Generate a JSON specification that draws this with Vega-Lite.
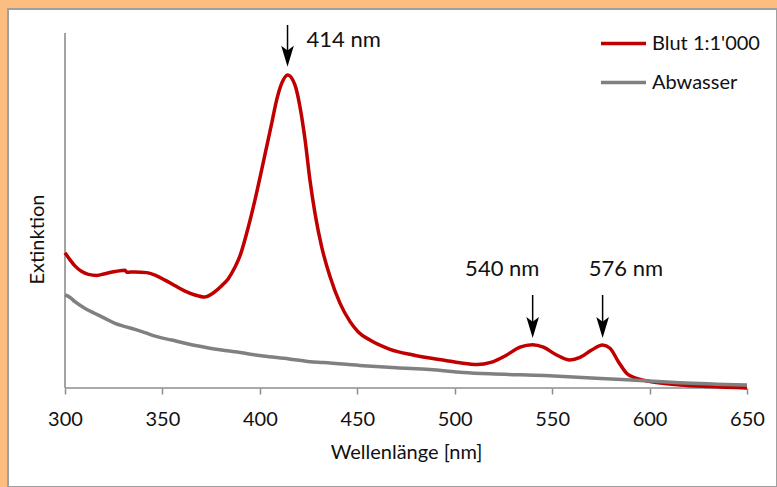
{
  "$schema": "https://vega.github.io/schema/vega-lite/v6.json",
  "width": 769,
  "height": 478,
  "padding": {"left": 8, "top": 9, "right": 0, "bottom": 0},
  "autosize": {"type": "none"},
  "background": "#FBBD80",
  "config": {
    "font": "Lato",
    "view": {"fill": "#FFFFFF", "stroke": "#A0A0A0", "strokeWidth": 2},
    "axis": {"grid": false}
  },
  "datasets": {
    "frame": [
      {"nm": 300, "nm2": 650, "v": 0, "v2": 0},
      {"nm": 300, "nm2": 300, "v": 0, "v2": 1}
    ],
    "curves": [
      {"series": "Blut 1:1'000", "nm": 300, "v": 0.381},
      {"series": "Blut 1:1'000", "nm": 302.6, "v": 0.361},
      {"series": "Blut 1:1'000", "nm": 305.1, "v": 0.344},
      {"series": "Blut 1:1'000", "nm": 308.6, "v": 0.328},
      {"series": "Blut 1:1'000", "nm": 312, "v": 0.320},
      {"series": "Blut 1:1'000", "nm": 316.3, "v": 0.317},
      {"series": "Blut 1:1'000", "nm": 320.5, "v": 0.322},
      {"series": "Blut 1:1'000", "nm": 325.7, "v": 0.328},
      {"series": "Blut 1:1'000", "nm": 330.8, "v": 0.332},
      {"series": "Blut 1:1'000", "nm": 331.7, "v": 0.326},
      {"series": "Blut 1:1'000", "nm": 335.9, "v": 0.327},
      {"series": "Blut 1:1'000", "nm": 341.9, "v": 0.325},
      {"series": "Blut 1:1'000", "nm": 346.2, "v": 0.318},
      {"series": "Blut 1:1'000", "nm": 351.3, "v": 0.304},
      {"series": "Blut 1:1'000", "nm": 356.5, "v": 0.288},
      {"series": "Blut 1:1'000", "nm": 361.6, "v": 0.273},
      {"series": "Blut 1:1'000", "nm": 366.7, "v": 0.262},
      {"series": "Blut 1:1'000", "nm": 371.8, "v": 0.256},
      {"series": "Blut 1:1'000", "nm": 375.3, "v": 0.265},
      {"series": "Blut 1:1'000", "nm": 380.4, "v": 0.288},
      {"series": "Blut 1:1'000", "nm": 383.8, "v": 0.308},
      {"series": "Blut 1:1'000", "nm": 387.2, "v": 0.340},
      {"series": "Blut 1:1'000", "nm": 389.8, "v": 0.372},
      {"series": "Blut 1:1'000", "nm": 394.1, "v": 0.454},
      {"series": "Blut 1:1'000", "nm": 397.5, "v": 0.530},
      {"series": "Blut 1:1'000", "nm": 400.9, "v": 0.614},
      {"series": "Blut 1:1'000", "nm": 403.5, "v": 0.680},
      {"series": "Blut 1:1'000", "nm": 406.1, "v": 0.746},
      {"series": "Blut 1:1'000", "nm": 408.6, "v": 0.811},
      {"series": "Blut 1:1'000", "nm": 411.2, "v": 0.858},
      {"series": "Blut 1:1'000", "nm": 414.3, "v": 0.882},
      {"series": "Blut 1:1'000", "nm": 418, "v": 0.854},
      {"series": "Blut 1:1'000", "nm": 420.6, "v": 0.792},
      {"series": "Blut 1:1'000", "nm": 423.2, "v": 0.699},
      {"series": "Blut 1:1'000", "nm": 425.7, "v": 0.586},
      {"series": "Blut 1:1'000", "nm": 428.3, "v": 0.492},
      {"series": "Blut 1:1'000", "nm": 431.7, "v": 0.398},
      {"series": "Blut 1:1'000", "nm": 436, "v": 0.314},
      {"series": "Blut 1:1'000", "nm": 441.1, "v": 0.239},
      {"series": "Blut 1:1'000", "nm": 446.3, "v": 0.187},
      {"series": "Blut 1:1'000", "nm": 450.5, "v": 0.158},
      {"series": "Blut 1:1'000", "nm": 456.5, "v": 0.135},
      {"series": "Blut 1:1'000", "nm": 466.8, "v": 0.109},
      {"series": "Blut 1:1'000", "nm": 478.7, "v": 0.093},
      {"series": "Blut 1:1'000", "nm": 495.9, "v": 0.077},
      {"series": "Blut 1:1'000", "nm": 502.7, "v": 0.071},
      {"series": "Blut 1:1'000", "nm": 511.5, "v": 0.066},
      {"series": "Blut 1:1'000", "nm": 518.5, "v": 0.072},
      {"series": "Blut 1:1'000", "nm": 526.7, "v": 0.093},
      {"series": "Blut 1:1'000", "nm": 533.5, "v": 0.115},
      {"series": "Blut 1:1'000", "nm": 540, "v": 0.122},
      {"series": "Blut 1:1'000", "nm": 545.5, "v": 0.115},
      {"series": "Blut 1:1'000", "nm": 552.3, "v": 0.093},
      {"series": "Blut 1:1'000", "nm": 559.2, "v": 0.079},
      {"series": "Blut 1:1'000", "nm": 564.3, "v": 0.086},
      {"series": "Blut 1:1'000", "nm": 570.3, "v": 0.107},
      {"series": "Blut 1:1'000", "nm": 575.9, "v": 0.121},
      {"series": "Blut 1:1'000", "nm": 579.7, "v": 0.112},
      {"series": "Blut 1:1'000", "nm": 584, "v": 0.074},
      {"series": "Blut 1:1'000", "nm": 588.3, "v": 0.041},
      {"series": "Blut 1:1'000", "nm": 593.4, "v": 0.027},
      {"series": "Blut 1:1'000", "nm": 600.2, "v": 0.018},
      {"series": "Blut 1:1'000", "nm": 615.6, "v": 0.0085},
      {"series": "Blut 1:1'000", "nm": 630, "v": 0.004},
      {"series": "Blut 1:1'000", "nm": 650, "v": 0.0},
      {"series": "Abwasser", "nm": 300, "v": 0.262},
      {"series": "Abwasser", "nm": 302.6, "v": 0.255},
      {"series": "Abwasser", "nm": 305.1, "v": 0.243},
      {"series": "Abwasser", "nm": 310.3, "v": 0.224},
      {"series": "Abwasser", "nm": 315.4, "v": 0.210},
      {"series": "Abwasser", "nm": 320.5, "v": 0.196},
      {"series": "Abwasser", "nm": 325.7, "v": 0.182},
      {"series": "Abwasser", "nm": 330.8, "v": 0.173},
      {"series": "Abwasser", "nm": 335.9, "v": 0.165},
      {"series": "Abwasser", "nm": 341, "v": 0.156},
      {"series": "Abwasser", "nm": 346.2, "v": 0.146},
      {"series": "Abwasser", "nm": 354.8, "v": 0.135},
      {"series": "Abwasser", "nm": 363.3, "v": 0.124},
      {"series": "Abwasser", "nm": 371.8, "v": 0.115},
      {"series": "Abwasser", "nm": 380.4, "v": 0.107},
      {"series": "Abwasser", "nm": 387.2, "v": 0.102},
      {"series": "Abwasser", "nm": 401.8, "v": 0.090},
      {"series": "Abwasser", "nm": 415, "v": 0.082},
      {"series": "Abwasser", "nm": 425.7, "v": 0.074},
      {"series": "Abwasser", "nm": 432.5, "v": 0.072},
      {"series": "Abwasser", "nm": 453.1, "v": 0.063},
      {"series": "Abwasser", "nm": 470.2, "v": 0.057},
      {"series": "Abwasser", "nm": 487.3, "v": 0.052},
      {"series": "Abwasser", "nm": 504.4, "v": 0.044},
      {"series": "Abwasser", "nm": 518.1, "v": 0.040},
      {"series": "Abwasser", "nm": 546.3, "v": 0.035},
      {"series": "Abwasser", "nm": 575, "v": 0.027},
      {"series": "Abwasser", "nm": 595, "v": 0.021},
      {"series": "Abwasser", "nm": 615.6, "v": 0.015},
      {"series": "Abwasser", "nm": 650, "v": 0.0085}
    ],
    "arrows": [
      {"nm": 414.2, "v": 1.0225, "v2": 0.94, "head": 0.9346},
      {"nm": 540, "v": 0.262, "v2": 0.18, "head": 0.1704},
      {"nm": 575.9, "v": 0.262, "v2": 0.18, "head": 0.1704}
    ],
    "labels": [
      {"nm": 443.0, "v": 0.9614, "text": "414 nm"},
      {"nm": 524.4, "v": 0.3155, "text": "540 nm"},
      {"nm": 587.9, "v": 0.3155, "text": "576 nm"}
    ]
  },
  "layer": [
    {
      "data": {"name": "frame"},
      "mark": {"type": "rule", "color": "#8C8C8C", "strokeWidth": 1.6},
      "encoding": {
        "x": {
          "field": "nm", "type": "quantitative",
          "scale": {"domain": [270.748, 665.396], "nice": false, "zero": false},
          "axis": {
            "values": [300, 350, 400, 450, 500, 550, 600, 650],
            "offset": -99, "domain": false,
            "tickSize": 6, "tickColor": "#8C8C8C", "tickWidth": 1.5,
            "labelFontSize": 20, "labelColor": "#111111", "labelPadding": 31,
            "labelBaseline": "alphabetic", "labelFlush": false, "labelOverlap": false,
            "title": "Wellenlänge [nm]", "titleFontSize": 20, "titleFontWeight": "normal",
            "titleColor": "#111111", "titleBaseline": "alphabetic", "titleAlign": "center",
            "titleX": 398, "titleY": 70
          }
        },
        "x2": {"field": "nm2"},
        "y": {
          "field": "v", "type": "quantitative",
          "scale": {"domain": [-0.27887, 1.06761], "nice": false, "zero": false},
          "axis": {
            "domain": false, "ticks": false, "labels": false,
            "title": "Extinktion", "titleFontSize": 20, "titleFontWeight": "normal",
            "titleColor": "#111111", "titleAngle": -90, "titleBaseline": "alphabetic",
            "titleAlign": "center", "titleX": 35, "titleY": 230
          }
        },
        "y2": {"field": "v2"}
      }
    },
    {
      "data": {"name": "curves"},
      "transform": [{"filter": "datum.series === \"Blut 1:1'000\""}],
      "mark": {"type": "line", "strokeWidth": 3.5, "interpolate": "monotone"},
      "encoding": {
        "x": {"field": "nm", "type": "quantitative"},
        "y": {"field": "v", "type": "quantitative"},
        "color": {
          "field": "series", "type": "nominal",
          "scale": {"domain": ["Blut 1:1'000", "Abwasser"], "range": ["#C00000", "#808080"]},
          "legend": {
            "orient": "none", "legendX": 591, "legendY": 10, "title": null,
            "symbolType": "stroke", "symbolSize": 2025, "symbolStrokeWidth": 3.5,
            "labelFontSize": 20, "labelColor": "#111111", "labelOffset": 4,
            "rowPadding": 4, "padding": 0
          }
        }
      }
    },
    {
      "data": {"name": "curves"},
      "transform": [{"filter": "datum.series === 'Abwasser'"}],
      "mark": {"type": "line", "strokeWidth": 3.5, "interpolate": "monotone"},
      "encoding": {
        "x": {"field": "nm", "type": "quantitative"},
        "y": {"field": "v", "type": "quantitative"},
        "color": {"field": "series", "type": "nominal"}
      }
    },
    {
      "data": {"name": "arrows"},
      "mark": {"type": "rule", "color": "#000000", "strokeWidth": 1.5},
      "encoding": {
        "x": {"field": "nm", "type": "quantitative"},
        "y": {"field": "v", "type": "quantitative"},
        "y2": {"field": "v2"}
      }
    },
    {
      "data": {"name": "arrows"},
      "mark": {"type": "point", "filled": true, "color": "#000000", "opacity": 1, "size": 441,
               "shape": "M0,1 L-0.6,-1 L0,-0.55 L0.6,-1 Z"},
      "encoding": {
        "x": {"field": "nm", "type": "quantitative"},
        "y": {"field": "head", "type": "quantitative"}
      }
    },
    {
      "data": {"name": "labels"},
      "mark": {"type": "text", "fontSize": 22, "align": "center", "baseline": "alphabetic", "color": "#111111"},
      "encoding": {
        "x": {"field": "nm", "type": "quantitative"},
        "y": {"field": "v", "type": "quantitative"},
        "text": {"field": "text"}
      }
    }
  ]
}
